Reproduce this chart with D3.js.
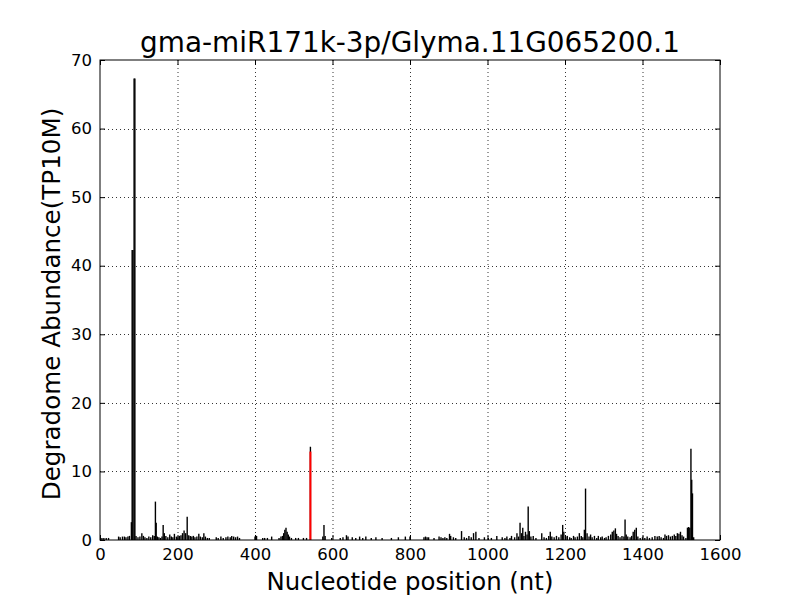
<!DOCTYPE html>
<html>
<head>
<meta charset="utf-8">
<script src="https://cdn.jsdelivr.net/npm/d3@7"></script>
<style>
body{margin:0;background:#fff;}
text{font-family:"DejaVu Sans",sans-serif;}
</style>
</head>
<body>
<script>
// degradome reads per nucleotide position
var positions=[5,10,16,22,48,52,58,63,67,72,76,81,83,85,88,90,93,98,103,108,112,116,121,126,131,136,140,143,145,148,152,156,160,163,166,170,175,180,184,188,192,197,201,205,209,213,217,221,225,229,233,237,241,245,250,255,259,264,268,272,277,282,300,305,312,318,325,330,336,340,345,350,355,360,
400,404,420,425,432,443,462,467,471,474,477,480,483,486,489,494,505,512,525,533,543,575,578,581,598,620,627,636,640,651,660,670,678,686,700,712,728,752,770,788,
800,836,840,844,848,862,875,880,885,890,895,902,905,912,918,933,940,946,952,958,964,970,978,992,1002,1010,1024,1038,1045,1050,1058,1062,1070,1076,1080,1084,1088,1091,1094,1098,1102,1105,1108,1112,1118,1125,1140,1146,1152,1158,1162,1166,1172,1178,1184,1190,1194,1197,
1202,1206,1212,1216,1222,1226,1232,1237,1242,1246,1250,1253,1257,1262,1266,1270,1276,1282,1286,1292,1296,1302,1306,1312,1318,1322,1326,1330,1333,1337,1342,1347,1352,1355,1358,1362,1368,1372,1376,1380,1384,1388,1394,
1400,1406,1412,1418,1425,1432,1438,1443,1448,1454,1458,1462,1467,1472,1477,1482,1486,1490,1494,1498,1502,1506,1512,1516,1519,1522,1525,1527,1529,1532];
var abundance=[0.3,0.3,0.3,0.3,0.5,0.4,0.5,0.5,0.4,0.5,0.6,2.6,42.3,42.3,67.3,67.3,0.6,0.4,0.5,1.0,0.6,0.4,0.3,0.5,0.4,0.7,0.6,5.6,2.5,0.5,0.4,0.3,0.5,2.2,1.0,0.6,0.4,0.8,0.5,0.4,0.9,0.5,0.4,0.6,0.7,1.0,1.4,1.0,3.4,0.7,0.6,0.5,0.6,0.4,0.5,0.9,0.5,0.4,1.0,0.5,0.3,0.3,0.4,0.3,0.5,0.3,0.4,0.5,0.4,0.6,0.5,0.4,0.5,0.3,
0.5,0.6,0.3,0.3,0.3,0.5,0.3,0.5,0.6,1.0,1.5,1.8,1.2,0.8,0.5,0.3,0.3,0.3,0.3,0.3,13.6,0.5,2.2,0.6,0.3,0.3,0.4,0.7,0.5,0.4,0.3,0.5,0.3,0.5,0.3,0.4,0.3,0.3,0.4,0.5,
0.5,0.4,0.5,0.4,0.4,0.3,0.5,0.4,0.3,0.4,0.3,0.9,0.6,0.4,0.3,1.3,0.4,0.3,0.6,0.4,1.0,1.2,0.3,0.4,0.3,0.3,0.6,0.4,0.3,0.5,0.3,0.6,0.4,1.0,0.5,2.5,1.0,1.8,0.6,1.2,0.8,4.9,1.3,0.5,0.6,0.3,1.0,0.4,0.3,0.6,1.2,0.5,0.4,0.6,0.4,0.8,2.2,1.2,
0.5,0.6,0.4,0.3,0.6,0.4,0.5,1.0,0.6,0.4,1.5,7.5,1.0,0.5,0.8,0.4,0.6,0.3,0.6,0.4,0.5,0.3,0.4,0.6,0.8,1.2,1.4,1.7,0.9,0.6,0.4,0.6,0.5,3.0,0.8,0.5,0.4,0.6,1.2,1.5,1.8,0.5,0.3,
0.4,0.3,0.5,0.3,0.4,0.6,0.5,0.6,0.4,0.3,0.8,0.6,0.7,0.5,0.6,0.8,0.6,1.0,0.9,1.2,0.7,0.5,0.3,1.8,1.9,1.8,13.3,8.8,6.8,0.4];
// miRNA cleavage site
var sitePos=[543];
var siteVal=[12.9];
var xTicks=[0,200,400,600,800,1000,1200,1400,1600];
var yTicks=[0,10,20,30,40,50,60,70];

var W=800,H=600;
var m={l:100,r:80,t:60,b:60};
var svg=d3.select('body').append('svg')
    .attr('width',W).attr('height',H);

var x=d3.scaleLinear().domain([0,1600]).range([m.l,W-m.r]);
var y=d3.scaleLinear().domain([0,70]).range([H-m.b,m.t]);

// grid
svg.append('g').selectAll('line').data(xTicks.slice(1,-1)).enter().append('line')
    .attr('x1',d=>x(d)+0.5).attr('x2',d=>x(d)+0.5)
    .attr('y1',y(70)).attr('y2',y(0))
    .attr('stroke','#000').attr('stroke-width',0.8).attr('stroke-dasharray','1,3');
svg.append('g').selectAll('line').data(yTicks.slice(1,-1)).enter().append('line')
    .attr('y1',d=>Math.round(y(d))+0.5).attr('y2',d=>Math.round(y(d))+0.5)
    .attr('x1',x(0)).attr('x2',x(1600))
    .attr('stroke','#000').attr('stroke-width',0.8).attr('stroke-dasharray','1,3');

// bars
svg.append('g').selectAll('line').data(positions).enter().append('line')
    .attr('x1',d=>x(d)).attr('x2',d=>x(d))
    .attr('y1',y(0)).attr('y2',(d,i)=>y(abundance[i]))
    .attr('stroke','#000').attr('stroke-width',1.4);
svg.append('g').selectAll('line').data(sitePos).enter().append('line')
    .attr('x1',d=>x(d)).attr('x2',d=>x(d))
    .attr('y1',y(0)).attr('y2',(d,i)=>y(siteVal[i]))
    .attr('stroke','red').attr('stroke-width',2);

// axes (ticks inside, on all sides)
var fmt=d3.format('d');
var ax=svg.append('g');
ax.append('g').attr('transform','translate(0,'+y(0)+')')
    .call(d3.axisBottom(x).tickValues(xTicks).tickFormat(fmt).tickSizeInner(-5).tickSizeOuter(0).tickPadding(8));
ax.append('g').attr('transform','translate(0,'+y(70)+')')
    .call(d3.axisTop(x).tickValues(xTicks).tickSizeInner(-5).tickSizeOuter(0).tickFormat(''));
ax.append('g').attr('transform','translate('+x(0)+',0)')
    .call(d3.axisLeft(y).tickValues(yTicks).tickFormat(fmt).tickSizeInner(-5).tickSizeOuter(0).tickPadding(8));
ax.append('g').attr('transform','translate('+x(1600)+',0)')
    .call(d3.axisRight(y).tickValues(yTicks).tickSizeInner(-5).tickSizeOuter(0).tickFormat(''));
ax.selectAll('.domain').remove();
ax.selectAll('text').attr('font-size',16.5).attr('font-family','"DejaVu Sans",sans-serif').attr('fill','#000');
ax.selectAll('.tick line').attr('stroke','#000');

svg.append('rect').attr('x',x(0)).attr('y',y(70))
    .attr('width',x(1600)-x(0)).attr('height',y(0)-y(70))
    .attr('fill','none').attr('stroke','#000').attr('stroke-width',1);

// labels
svg.append('text').attr('x',(x(0)+x(1600))/2).attr('y',52)
    .attr('text-anchor','middle').attr('font-size',27.9)
    .text('gma-miR171k-3p/Glyma.11G065200.1');
svg.append('text').attr('x',(x(0)+x(1600))/2).attr('y',590)
    .attr('text-anchor','middle').attr('font-size',24.4)
    .text('Nucleotide position (nt)');
svg.append('text').attr('transform','translate(60,'+(y(35)+4)+') rotate(-90)')
    .attr('text-anchor','middle').attr('font-size',24.6)
    .text('Degradome Abundance(TP10M)');
</script>
</body>
</html>
